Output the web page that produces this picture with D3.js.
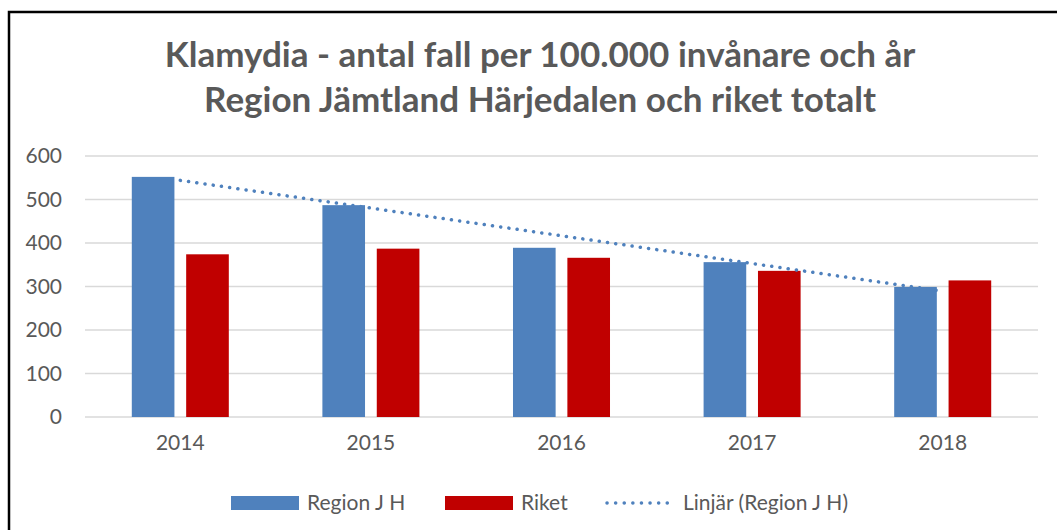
<!DOCTYPE html>
<html>
<head>
<meta charset="utf-8">
<script src="https://cdn.jsdelivr.net/npm/d3@7"></script>
<style>
  html, body { margin: 0; padding: 0; background: #fff; }
  svg { display: block; font-family: Lato, "Open Sans", sans-serif; }
</style>
</head>
<body>
<svg id="chart" width="1057" height="530"></svg>
<script>
// Data
const years = ["2014", "2015", "2016", "2017", "2018"];
const regionJH = [552, 487, 389, 356, 299];
const riket = [374, 387, 366, 336, 314];
const yTicks = [0, 100, 200, 300, 400, 500, 600];
const seriesNames = ["Region J H", "Riket"];
const trendName = "Linjär (Region J H)";
const titleLines = ["Klamydia - antal fall per 100.000 invånare och år", "Region Jämtland Härjedalen och riket totalt"];

const colors = { "Region J H": "#4F81BD", "Riket": "#C00000" };
const textColor = "#595959";

const svg = d3.select("#chart");

// Frame around the chart
svg.append("path")
    .attr("d", "M9,540 L9,12 L1070,12")
    .attr("fill", "none")
    .attr("stroke", "#000")
    .attr("stroke-width", 2.5);

// Title
svg.selectAll(".title")
    .data(titleLines)
    .enter()
    .append("text")
    .attr("class", "title")
    .attr("x", 540)
    .attr("y", (d, i) => 67 + i * 45)
    .attr("text-anchor", "middle")
    .attr("fill", textColor)
    .style("font-size", "35px")
    .style("font-weight", "bold")
    .text(d => d);

// Scales
const x0 = d3.scaleBand()
    .domain(years)
    .range([85, 1038])
    .paddingInner(0.491)
    .paddingOuter(0.2455);

const x1 = d3.scaleBand()
    .domain(seriesNames)
    .range([0, x0.bandwidth()])
    .paddingInner(0.216);

const y = d3.scaleLinear()
    .domain([0, 600])
    .range([417, 156]);

// Grid lines
svg.append("g")
    .selectAll("line")
    .data(yTicks)
    .enter()
    .append("line")
    .attr("x1", 85)
    .attr("x2", 1038)
    .attr("y1", d => y(d))
    .attr("y2", d => y(d))
    .attr("stroke", "#d9d9d9")
    .attr("stroke-width", 1.5);

// Y axis labels
const yAxis = svg.append("g")
    .attr("transform", "translate(62,0)")
    .call(d3.axisLeft(y).tickValues(yTicks).tickSize(0).tickPadding(0));
yAxis.select(".domain").remove();
yAxis.selectAll("text")
    .attr("fill", textColor)
    .style("font-size", "21px")
    .style("font-family", "Lato, sans-serif");

// X axis labels
const xAxis = svg.append("g")
    .attr("transform", "translate(0,435)")
    .call(d3.axisBottom(x0).tickSize(0).tickPadding(0));
xAxis.select(".domain").remove();
xAxis.selectAll("text")
    .attr("fill", textColor)
    .style("font-size", "21px")
    .style("font-family", "Lato, sans-serif");

// Bars
const rows = years.map((yr, i) => ({ year: yr, values: [
    { name: "Region J H", value: regionJH[i] },
    { name: "Riket", value: riket[i] }
] }));

svg.append("g")
    .selectAll("g")
    .data(rows)
    .enter()
    .append("g")
    .attr("transform", d => `translate(${x0(d.year)},0)`)
    .selectAll("rect")
    .data(d => d.values)
    .enter()
    .append("rect")
    .attr("x", d => x1(d.name))
    .attr("y", d => y(d.value))
    .attr("width", x1.bandwidth())
    .attr("height", d => y(0) - y(d.value))
    .attr("fill", d => colors[d.name]);

// Linear trend line for Region J H (least squares, like Excel)
const n = regionJH.length;
const meanX = (n - 1) / 2;
const meanY = d3.mean(regionJH);
const slope = d3.sum(regionJH, (v, i) => (i - meanX) * (v - meanY)) / d3.sum(regionJH, (v, i) => (i - meanX) ** 2);
const intercept = meanY - slope * meanX;

const trendLine = d3.line()
    .x((d, i) => x0(years[i]) + x0.bandwidth() / 2)
    .y((d, i) => y(intercept + slope * i));

svg.append("path")
    .datum(years)
    .attr("d", trendLine)
    .attr("fill", "none")
    .attr("stroke", "#4F81BD")
    .attr("stroke-width", 3.5)
    .attr("stroke-linecap", "round")
    .attr("stroke-dasharray", "0.1 8.2");

// Legend
const legend = svg.append("g").style("font-size", "21px");

legend.append("rect").attr("x", 231).attr("y", 496).attr("width", 68).attr("height", 14).attr("fill", colors["Region J H"]);
legend.append("text").attr("x", 307).attr("y", 510).attr("fill", textColor).text(seriesNames[0]);

legend.append("rect").attr("x", 445).attr("y", 496).attr("width", 68).attr("height", 14).attr("fill", colors["Riket"]);
legend.append("text").attr("x", 521).attr("y", 510).attr("fill", textColor).text(seriesNames[1]);

legend.append("line")
    .attr("x1", 607).attr("x2", 675).attr("y1", 503).attr("y2", 503)
    .attr("stroke", "#4F81BD")
    .attr("stroke-width", 3.5)
    .attr("stroke-linecap", "round")
    .attr("stroke-dasharray", "0.1 8.5");
legend.append("text").attr("x", 683).attr("y", 510).attr("fill", textColor).text(trendName);
</script>
</body>
</html>
